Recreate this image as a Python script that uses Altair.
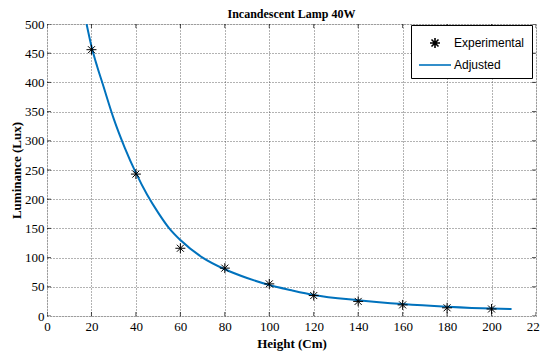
import altair as alt
import pandas as pd

# Experimental measurements
height_exp = [20, 40, 60, 80, 100, 120, 140, 160, 180, 200]
lux_exp = [456, 243, 116, 82, 55, 35, 25, 19, 14, 12]

# Adjusted (fitted) curve
fit_height = [17.8, 20, 22.5, 25, 30, 35, 40, 45, 50, 55, 60, 70, 80, 90, 100,
              110, 120, 140, 160, 180, 200, 209]
fit_lux = [500, 462, 428, 398, 338, 288, 245, 208, 177, 150, 130, 100, 80, 65, 53,
           44, 36, 27, 20.5, 16, 12.8, 12]

x_ticks = list(range(0, 221, 20))
y_ticks = list(range(0, 501, 50))

series = ["Experimental", "Adjusted"]

exp_df = pd.DataFrame({"h": height_exp, "lux": lux_exp, "series": "Experimental"})
fit_df = pd.DataFrame({"h": fit_height, "lux": fit_lux})

SERIF = "Liberation Serif"
BLUE = "#0072BD"
ASTERISK = "M-0.5,0L0.5,0M0,-0.5L0,0.5M-0.35,-0.35L0.35,0.35M-0.35,0.35L0.35,-0.35"
LINE = "M-1.6,0L1.6,0"

xscale = alt.Scale(domain=[0, 220], nice=False)
yscale = alt.Scale(domain=[0, 500], nice=False)

xaxis = alt.Axis(values=x_ticks, title="Height (Cm)", grid=True, ticks=False, domain=False,
                 labelFont=SERIF, labelFontSize=13, labelColor="black", labelPadding=4,
                 titleFont=SERIF, titleFontSize=13, titleFontWeight="bold", titleColor="black",
                 titlePadding=4, gridDash=[1, 2], gridColor="#333", gridOpacity=0.75,
                 labelFlush=False, labelOverlap=False)
yaxis = alt.Axis(values=y_ticks, title="Luminance (Lux)", grid=True, ticks=False, domain=False,
                 labelFont=SERIF, labelFontSize=13, labelColor="black", labelPadding=3,
                 titleFont=SERIF, titleFontSize=13, titleFontWeight="bold", titleColor="black",
                 titlePadding=1, gridDash=[1, 2], gridColor="#333", gridOpacity=0.75,
                 labelFlush=False, labelOverlap=False)

line = alt.Chart(fit_df).mark_line(color=BLUE, strokeWidth=2, clip=True,
                                   interpolate="monotone").encode(
    x=alt.X("h:Q", scale=xscale, axis=xaxis),
    y=alt.Y("lux:Q", scale=yscale, axis=yaxis),
)

points = alt.Chart(exp_df).mark_point(filled=False, size=400, strokeWidth=1.0, opacity=1).encode(
    x=alt.X("h:Q", scale=xscale, axis=xaxis),
    y=alt.Y("lux:Q", scale=yscale, axis=yaxis),
    color=alt.Color("series:N", scale=alt.Scale(domain=series, range=["black", BLUE]),
                    legend=alt.Legend(title=None, orient="none", legendX=364, legendY=1,
                                      strokeColor="black", fillColor="white", padding=7,
                                      labelFont="Liberation Sans", labelFontSize=12,
                                      labelColor="black", symbolSize=400,
                                      symbolStrokeWidth=1.6, labelOffset=8,
                                      symbolOffset=6, rowPadding=2, cornerRadius=0,
                                      labelLimit=200)),
    shape=alt.Shape("series:N", scale=alt.Scale(domain=series, range=[ASTERISK, LINE])),
)

xt = pd.DataFrame({"v": x_ticks})
yt = pd.DataFrame({"v": y_ticks})

def vtick():
    return alt.Chart(xt).mark_tick(orient="vertical", size=8, thickness=1, color="black", clip=True)

def htick():
    return alt.Chart(yt).mark_tick(orient="horizontal", size=8, thickness=1, color="black", clip=True)

tick_top = vtick().encode(x=alt.X("v:Q", scale=xscale, axis=xaxis), y=alt.datum(500, scale=yscale, axis=yaxis))
tick_bottom = vtick().encode(x=alt.X("v:Q", scale=xscale, axis=xaxis), y=alt.datum(0, scale=yscale, axis=yaxis))
tick_left = htick().encode(y=alt.Y("v:Q", scale=yscale, axis=yaxis), x=alt.datum(0, scale=xscale, axis=xaxis))
tick_right = htick().encode(y=alt.Y("v:Q", scale=yscale, axis=yaxis), x=alt.datum(220, scale=xscale, axis=xaxis))

chart = alt.layer(line, tick_top, tick_bottom, tick_left, tick_right, points).properties(
    width=489,
    height=292,
    autosize=alt.AutoSizeParams(type="none"),
    padding={"left": 39, "top": 16, "right": 4, "bottom": 40},
    title=alt.TitleParams("Incandescent Lamp 40W", font=SERIF, fontSize=12,
                          fontWeight="bold", offset=-3, anchor="middle", color="black"),
).configure_view(stroke="black", strokeWidth=1.5).configure(background="white")

chart.save("out.html", embed_options={"renderer": "svg", "actions": False})
